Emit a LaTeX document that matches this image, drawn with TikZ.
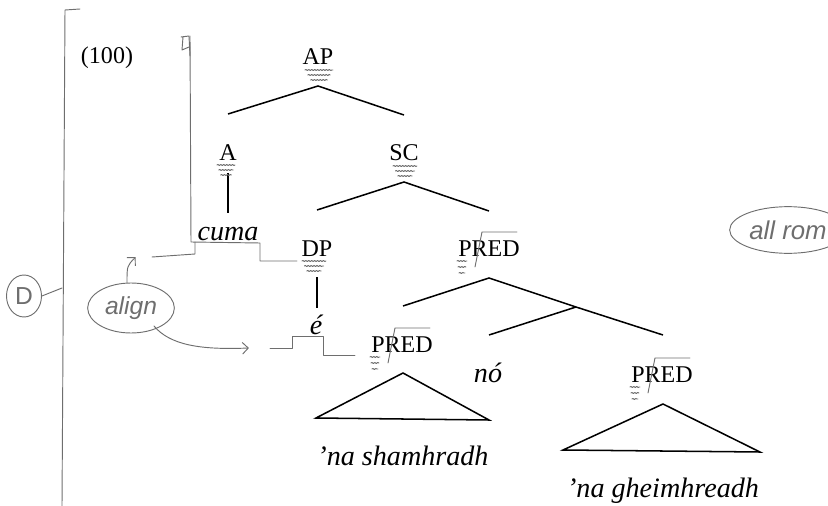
\documentclass[tikz,border=0pt]{standalone}
\usepackage{fontspec}
\setmainfont{Liberation Serif}
\newfontfamily\handfont{Liberation Sans}
\usetikzlibrary{arrows.meta,positioning,shapes.geometric,decorations.pathmorphing}
\definecolor{pencilgray}{HTML}{6E6E6E}
\tikzset{
  cat/.style={font=\fontsize{20.5}{24}\selectfont, inner sep=0pt, anchor=base},
  word/.style={font=\fontsize{24}{28}\selectfont\itshape, inner sep=0pt, anchor=base},
  branch/.style={line width=1.3pt},
  pencil/.style={pencilgray, line width=0.8pt, line cap=round, line join=round},
  squiggle/.style={pencil, decorate, decoration={snake, amplitude=0.5pt, segment length=2.5pt}},
  hand/.style={pencilgray, font=\handfont\fontsize{21}{24}\selectfont},
}

\begin{document}
\begin{tikzpicture}[x=0.03cm, y=-0.03cm]
  \useasboundingbox (0,0) rectangle (828,506);

  %% Labels, placed at their baselines
  \node[cat] (ex) at (107,64) {(100)};
  \node[cat] (AP) at (318,65) {AP};
  \node[cat] (A) at (228,160) {A};
  \node[cat] (SC) at (404,161) {SC};
  \node[word] (cuma) at (228,240) {cuma};
  \node[cat] (DP) at (317,256) {DP};
  \node[cat] (PRED1) at (489,256) {PRED};
  \node[word] (e) at (316,334) {é};
  \node[cat] (PRED2) at (402,352) {PRED};
  \node[word] (no) at (488,382) {nó};
  \node[cat] (PRED3) at (662,382) {PRED};
  \node[word] (shamh) at (403,465) {’na shamhradh};
  \node[word] (gheimh) at (663,497) {’na gheimhreadh};

  %% Branch points
  \coordinate (AP-top) at (318,86);
  \coordinate (AP-l) at (228,114);
  \coordinate (AP-r) at (404,115);
  \coordinate (A-top) at (228,173);
  \coordinate (A-bot) at (228,213);
  \coordinate (SC-top) at (404,182);
  \coordinate (SC-l) at (317,210);
  \coordinate (SC-r) at (489,211);
  \coordinate (DP-top) at (317,277);
  \coordinate (DP-bot) at (317,308);
  \coordinate (P1-top) at (489,278);
  \coordinate (P1-l) at (403,306);
  \coordinate (P1-mid) at (576,307);
  \coordinate (P1-r) at (663,335);
  \coordinate (mid-l) at (489,335);

  %% Tree
  \draw[branch] (AP-l) -- (AP-top) -- (AP-r);
  \draw[branch] (A-top) -- (A-bot);
  \draw[branch] (SC-l) -- (SC-top) -- (SC-r);
  \draw[branch] (DP-top) -- (DP-bot);
  \draw[branch] (P1-l) -- (P1-top) -- (P1-mid) -- (P1-r);
  \draw[branch] (P1-mid) -- (mid-l);

  %% Triangles
  \coordinate (T1-top) at (403,373);
  \coordinate (T1-l) at (316,418);
  \coordinate (T1-r) at (489,420);
  \coordinate (T2-top) at (663,404);
  \coordinate (T2-l) at (563,450);
  \coordinate (T2-r) at (760,452);
  \draw[branch] (T1-top) -- (T1-l) -- (T1-r) -- cycle;
  \draw[branch] (T2-top) -- (T2-l) -- (T2-r) -- cycle;

  %% Pencil marks under the categories
  \foreach \n/\w/\dx in {AP/14/1,A/9/-2,SC/12/1,DP/12/-3}
    \foreach \dy/\f in {5/1,10/0.8,15/0.6}
      \draw[squiggle] ([shift={(\dx-\f*\w,\dy)}]\n.base) -- ([shift={(\dx+\f*\w,\dy)}]\n.base);

  %% Radical sign and marks on the PRED nodes
  \foreach \n in {PRED1,PRED2,PRED3} {
    \draw[pencil] ([shift={(-14,11)}]\n.base) -- ([shift={(-7,-24)}]\n.base)
      -- ([shift={(28,-24)}]\n.base);
    \foreach \dy/\w in {5/5,11/4,17/3}
      \draw[squiggle] ([shift={(-27-\w,\dy)}]\n.base) -- ([shift={(-27+\w,\dy)}]\n.base);
  }

  %% Hand-drawn annotations
  \coordinate (rule-top) at (65,10);
  \coordinate (rule-bot) at (62,506);
  \draw[pencil] (80,9) -- (rule-top) -- (rule-bot);
  \node[pencil, draw, ellipse, inner sep=0pt,
        minimum width=1.05cm, minimum height=1.26cm] (D) at (24,296) {};
  \node[hand] at (D.center) {D};
  \draw[pencil] (D.east) -- (62,288);

  \draw[pencil] (181,37) -- (189,36) -- (190,56) (183,37) -- (182,50) -- (189,47);
  \coordinate (cuma-br) at (152,257);
  \draw[pencil] (190,36) -- (191,242) -- (260,243) -- (260,261) -- (297,261);
  \draw[pencil] (cuma-br) -- (195,254) -- (195,242);
  \coordinate (e-br) at (270,348);
  \draw[pencil] (e-br) -- (292,348) -- (292,336) -- (323,336) -- (323,355) -- (355,355);

  \node[hand, draw, ellipse, inner sep=1pt, minimum width=2.6cm, minimum height=1.5cm,
        line width=0.8pt, font=\handfont\itshape\fontsize{21}{24}\selectfont]
        (align) at (131,308) {align};
  \draw[pencil, -{Straight Barb[length=5pt]}] (align.north) ++(-4,0)
    .. controls (127,266) .. ([xshift=-14]cuma-br);
  \draw[pencil, -{Straight Barb[length=5pt]}] (align.south east) ++(-8,0)
    .. controls (170,345) and (200,350) .. ([xshift=-18]e-br);

  \node[hand, draw, ellipse, inner sep=1pt, minimum width=3.5cm, minimum height=1.4cm,
        line width=0.8pt, font=\handfont\itshape\fontsize{22}{25}\selectfont]
        (allrom) at (788,230) {all rom};
\end{tikzpicture}
\end{document}
